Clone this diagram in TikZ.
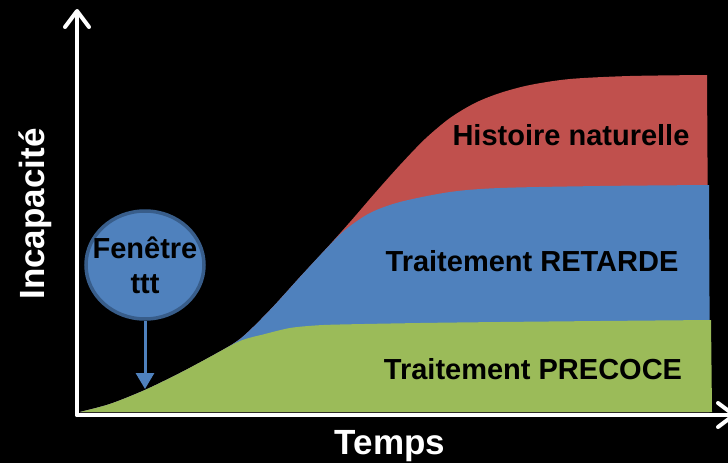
\documentclass[tikz,border=0pt]{standalone}
\usepackage{fontspec}
\setmainfont{Liberation Sans}
\usepackage{tikz}
\usetikzlibrary{arrows.meta,shapes.geometric}
\definecolor{histred}{HTML}{C0504D}
\definecolor{retblue}{HTML}{4F81BD}
\definecolor{preccgreen}{HTML}{9BBB59}
\definecolor{ringblue}{HTML}{385D8A}
\begin{document}
\begin{tikzpicture}[x=1pt,y=-1pt,
        axe/.style={white,line width=4pt,line cap=round,-{Straight Barb[length=16pt,width=24pt,round]}},
        zone/.style={font=\fontsize{29}{35}\selectfont\bfseries,text=black},
        titre/.style={font=\fontsize{35}{40}\selectfont\bfseries,text=white}]
        \clip (0,0) rectangle (728,463);
        \fill [black] (0,0) rectangle (728,463);

        % aires
        \fill [histred] plot [smooth] coordinates {(80,412) (110,404) (145,390) (180,373) (210,357) (240,339) (270,310) (300,277) (325,250) (350,222) (375,193) (400,165) (425,139) (450,118) (475,103) (500,93) (530,85) (570,79) (630,76) (707,75)} -- (709,412) -- cycle;
        \fill [retblue] plot [smooth] coordinates {(80,412) (110,404) (145,390) (180,373) (210,357) (240,339) (270,310) (300,277) (325,250) (345,230) (370,213) (400,202) (450,192) (500,188) (600,186) (709,185)} -- (710,412) -- cycle;
        \fill [preccgreen] plot [smooth] coordinates {(80,412) (110,404) (145,390) (180,373) (210,357) (240,341) (265,334) (290,328) (315,325.5) (340,324.5) (420,323) (500,322) (600,321) (711,320)} -- (712,412) -- cycle;

        % axes
        \coordinate (O) at (77,415);
        \coordinate (yhaut) at (77,9);
        \coordinate (xfin) at (736,415);
        \draw [axe] (O)--(yhaut);
        \draw [axe] (O)--(xfin);
        \node [titre,anchor=base] (temps) at(390,454) {Temps};
        \node [titre,anchor=base,rotate=90] (incap) at(44,214) {Incapacité};

        \node [zone] (histoire) at(571,135) {Histoire naturelle};
        \node [zone] (retarde) at(532,261) {Traitement RETARDE};
        \node [zone] (precoce) at(533,369) {Traitement PRECOCE};

        % fenetre
        \node [ellipse,draw=ringblue,line width=3.5pt,fill=retblue,minimum width=118pt,minimum height=108pt,inner sep=0pt] (fenetre) at(145,265) {};
        \node [zone,align=center] (fenetretxt) at(fenetre) {Fenêtre\\ttt};
        \coordinate (debut) at (145,389);
        \draw [retblue,line width=3pt,-{Triangle[length=16pt,width=18pt]}] (fenetre.south)--(debut);
    \end{tikzpicture}
\end{document}
